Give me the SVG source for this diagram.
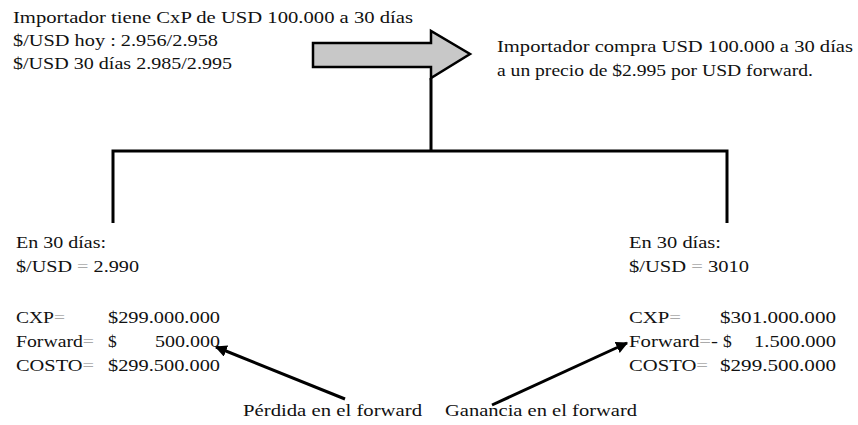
<svg xmlns="http://www.w3.org/2000/svg" width="858" height="425" viewBox="0 0 858 425">
<defs>
<style>
text{font-family:"Liberation Serif","Times New Roman",serif;font-size:17.5px;fill:#111}
.eq{fill:#aaaaaa}
.ln{stroke:#000;stroke-width:3;fill:none}
</style>
<marker id="ah" viewBox="0 0 10 10" refX="9" refY="5" markerWidth="4" markerHeight="4" orient="auto">
<path d="M0,0 L10,5 L0,10 z" fill="#000"/>
</marker>
</defs>
<rect width="858" height="425" fill="#fff"/>
<g id="start">
<text x="13" y="23" textLength="400" lengthAdjust="spacingAndGlyphs">Importador tiene CxP de USD 100.000 a 30 días</text>
<text x="13" y="46" textLength="205" lengthAdjust="spacingAndGlyphs">$/USD hoy : 2.956/2.958</text>
<text x="13" y="69" textLength="219" lengthAdjust="spacingAndGlyphs">$/USD 30 días 2.985/2.995</text>
</g>
<g id="big-arrow">
<polygon points="313,43 431,43 431,31 470,54 431,78 431,67 313,67" fill="#c8c8c8" stroke="#000" stroke-width="2.5" stroke-linejoin="miter"/>
</g>
<g id="forward">
<text x="497" y="52" textLength="356" lengthAdjust="spacingAndGlyphs">Importador compra USD 100.000 a 30 días</text>
<text x="497" y="76" textLength="316" lengthAdjust="spacingAndGlyphs">a un precio de $2.995 por USD forward.</text>
</g>
<g id="connectors">
<path class="ln" d="M431,78 V151 M113,223 V151 H727 V223"/>
<line x1="345" y1="399" x2="216" y2="347" stroke="#000" stroke-width="3" marker-end="url(#ah)"/>
<line x1="492" y1="405" x2="627" y2="343" stroke="#000" stroke-width="3" marker-end="url(#ah)"/>
</g>
<g id="left-case">
<text x="16" y="248" textLength="90" lengthAdjust="spacingAndGlyphs">En 30 días:</text>
<text x="16" y="272" textLength="123" lengthAdjust="spacingAndGlyphs">$/USD <tspan class="eq">=</tspan> 2.990</text>
<text x="16" y="323" textLength="49" lengthAdjust="spacingAndGlyphs">CXP<tspan class="eq">=</tspan></text>
<text x="108" y="323" textLength="112" lengthAdjust="spacingAndGlyphs">$299.000.000</text>
<text x="16" y="347" textLength="78" lengthAdjust="spacingAndGlyphs">Forward<tspan class="eq">=</tspan></text>
<text x="108" y="347">$</text>
<text x="220" y="347" text-anchor="end" textLength="65" lengthAdjust="spacingAndGlyphs">500.000</text>
<text x="16" y="371" textLength="78" lengthAdjust="spacingAndGlyphs">COSTO<tspan class="eq">=</tspan></text>
<text x="108" y="371" textLength="112" lengthAdjust="spacingAndGlyphs">$299.500.000</text>
</g>
<g id="right-case">
<text x="629" y="248" textLength="92" lengthAdjust="spacingAndGlyphs">En 30 días:</text>
<text x="629" y="272" textLength="120" lengthAdjust="spacingAndGlyphs">$/USD <tspan class="eq">=</tspan> 3010</text>
<text x="629" y="323" textLength="52" lengthAdjust="spacingAndGlyphs">CXP<tspan class="eq">=</tspan></text>
<text x="720" y="323" textLength="116" lengthAdjust="spacingAndGlyphs">$301.000.000</text>
<text x="629" y="347" textLength="89" lengthAdjust="spacingAndGlyphs">Forward<tspan class="eq">=</tspan>-</text>
<text x="723" y="347">$</text>
<text x="836" y="347" text-anchor="end" textLength="82" lengthAdjust="spacingAndGlyphs">1.500.000</text>
<text x="629" y="371" textLength="79" lengthAdjust="spacingAndGlyphs">COSTO<tspan class="eq">=</tspan></text>
<text x="720" y="371" textLength="116" lengthAdjust="spacingAndGlyphs">$299.500.000</text>
</g>
<g id="labels">
<text x="243" y="416" textLength="179" lengthAdjust="spacingAndGlyphs">Pérdida en el forward</text>
<text x="445" y="416" textLength="192" lengthAdjust="spacingAndGlyphs">Ganancia en el forward</text>
</g>
</svg>
